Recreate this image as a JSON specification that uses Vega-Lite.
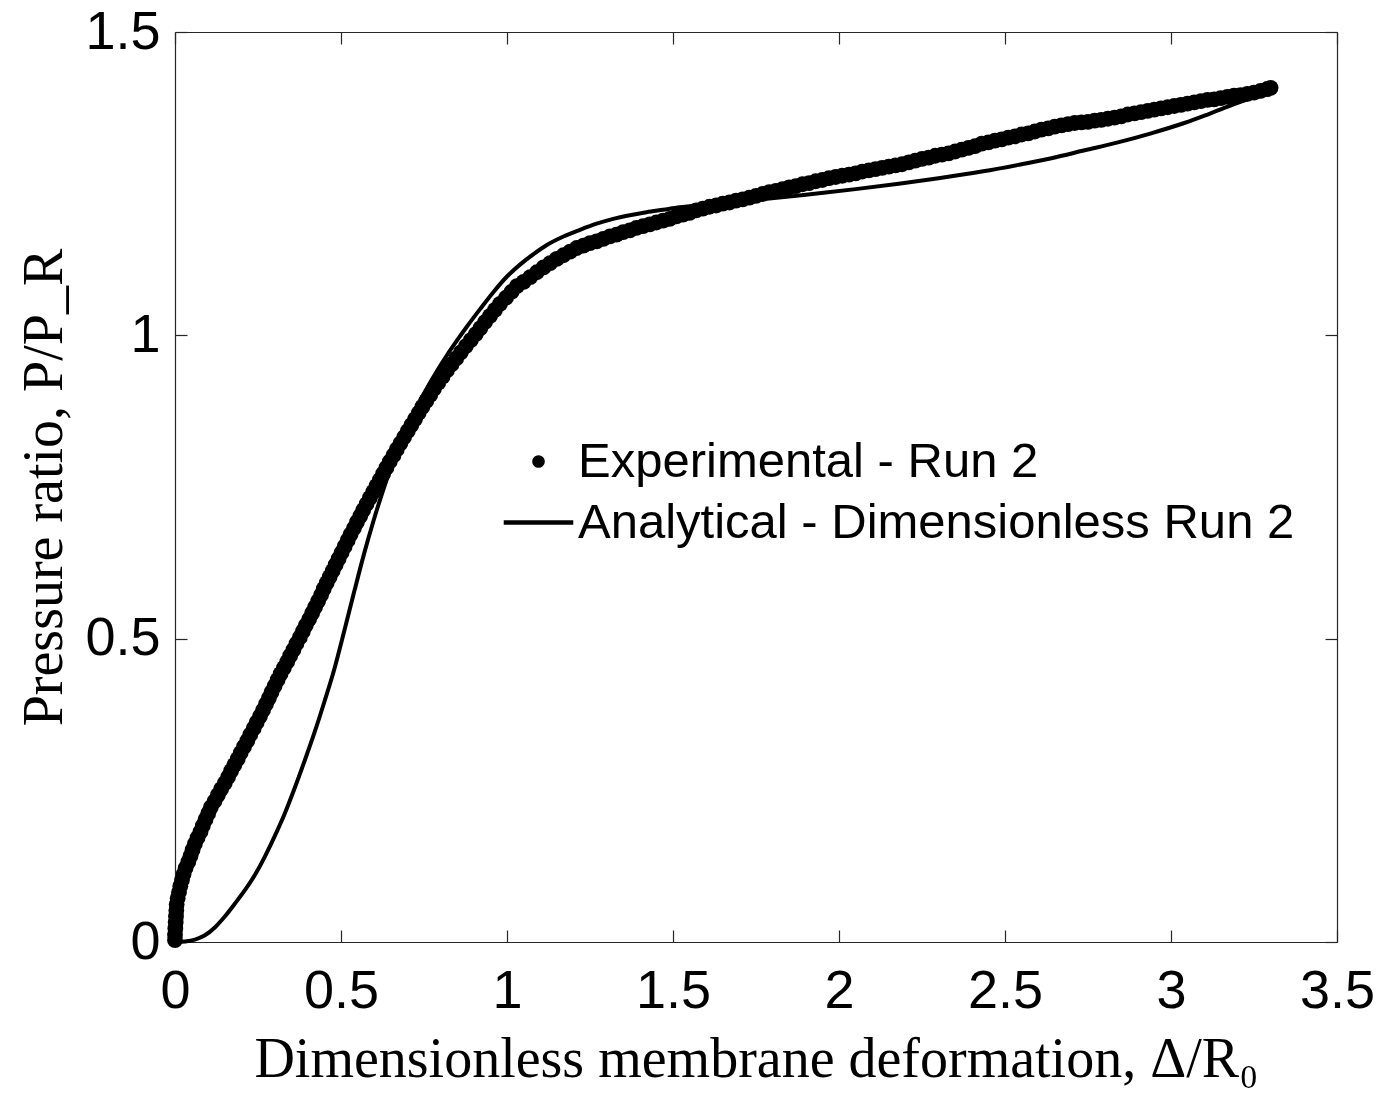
{
  "$schema": "https://vega.github.io/schema/vega-lite/v6.json",
  "width": 1162,
  "height": 910,
  "autosize": "none",
  "padding": {"left": 175, "top": 32, "right": 56, "bottom": 162},
  "background": "white",
  "config": {
    "view": {"stroke": null},
    "axis": {
      "domainColor": "#262626",
      "domainWidth": 1.2,
      "tickColor": "#262626",
      "tickWidth": 1.2,
      "tickSize": -12,
      "grid": false,
      "labelFont": "Liberation Sans",
      "labelFontSize": 54,
      "labelColor": "black",
      "titleFont": "Liberation Serif",
      "titleFontSize": 56,
      "titleFontWeight": "normal",
      "titleColor": "black"
    },
    "legend": {
      "orient": "none",
      "legendX": 339,
      "legendY": 405,
      "padding": 0,
      "labelFont": "Liberation Sans",
      "labelFontSize": 49,
      "labelColor": "black",
      "labelLimit": 2000,
      "labelOffset": 15,
      "rowPadding": 11,
      "symbolSize": 160,
      "symbolFillColor": "black",
      "symbolStrokeWidth": 0,
      "symbolOpacity": 1
    }
  },
  "datasets": {
    "experimental": [
      {"x": 0.000, "y": 0.003}, {"x": 0.000, "y": 0.012}, {"x": 0.001, "y": 0.022}, {"x": 0.002, "y": 0.032},
      {"x": 0.003, "y": 0.042}, {"x": 0.004, "y": 0.052}, {"x": 0.005, "y": 0.062}, {"x": 0.008, "y": 0.072},
      {"x": 0.012, "y": 0.082}, {"x": 0.016, "y": 0.092}, {"x": 0.021, "y": 0.102}, {"x": 0.026, "y": 0.112},
      {"x": 0.032, "y": 0.122}, {"x": 0.040, "y": 0.132}, {"x": 0.047, "y": 0.142}, {"x": 0.053, "y": 0.152},
      {"x": 0.060, "y": 0.162}, {"x": 0.068, "y": 0.172}, {"x": 0.077, "y": 0.182}, {"x": 0.084, "y": 0.192},
      {"x": 0.092, "y": 0.202}, {"x": 0.100, "y": 0.212}, {"x": 0.108, "y": 0.222}, {"x": 0.119, "y": 0.232},
      {"x": 0.129, "y": 0.242}, {"x": 0.139, "y": 0.252}, {"x": 0.150, "y": 0.262}, {"x": 0.160, "y": 0.272},
      {"x": 0.169, "y": 0.282}, {"x": 0.179, "y": 0.292}, {"x": 0.189, "y": 0.302}, {"x": 0.198, "y": 0.312},
      {"x": 0.208, "y": 0.322}, {"x": 0.218, "y": 0.332}, {"x": 0.227, "y": 0.342}, {"x": 0.237, "y": 0.352},
      {"x": 0.246, "y": 0.362}, {"x": 0.256, "y": 0.372}, {"x": 0.265, "y": 0.382}, {"x": 0.274, "y": 0.392},
      {"x": 0.283, "y": 0.402}, {"x": 0.291, "y": 0.412}, {"x": 0.300, "y": 0.422}, {"x": 0.309, "y": 0.432},
      {"x": 0.318, "y": 0.442}, {"x": 0.328, "y": 0.452}, {"x": 0.338, "y": 0.462}, {"x": 0.347, "y": 0.472},
      {"x": 0.357, "y": 0.482}, {"x": 0.366, "y": 0.492}, {"x": 0.376, "y": 0.502}, {"x": 0.385, "y": 0.512},
      {"x": 0.394, "y": 0.522}, {"x": 0.404, "y": 0.532}, {"x": 0.413, "y": 0.542}, {"x": 0.422, "y": 0.552},
      {"x": 0.431, "y": 0.562}, {"x": 0.440, "y": 0.572}, {"x": 0.448, "y": 0.582}, {"x": 0.457, "y": 0.592},
      {"x": 0.466, "y": 0.602}, {"x": 0.475, "y": 0.612}, {"x": 0.484, "y": 0.622}, {"x": 0.493, "y": 0.632},
      {"x": 0.502, "y": 0.642}, {"x": 0.511, "y": 0.652}, {"x": 0.520, "y": 0.662}, {"x": 0.529, "y": 0.672},
      {"x": 0.539, "y": 0.682}, {"x": 0.548, "y": 0.692}, {"x": 0.558, "y": 0.702}, {"x": 0.567, "y": 0.712},
      {"x": 0.577, "y": 0.722}, {"x": 0.587, "y": 0.732}, {"x": 0.597, "y": 0.742}, {"x": 0.607, "y": 0.752},
      {"x": 0.617, "y": 0.762}, {"x": 0.627, "y": 0.772}, {"x": 0.637, "y": 0.782}, {"x": 0.647, "y": 0.792},
      {"x": 0.658, "y": 0.802}, {"x": 0.668, "y": 0.812}, {"x": 0.679, "y": 0.822}, {"x": 0.690, "y": 0.832},
      {"x": 0.701, "y": 0.842}, {"x": 0.712, "y": 0.852}, {"x": 0.723, "y": 0.862}, {"x": 0.734, "y": 0.872},
      {"x": 0.745, "y": 0.882}, {"x": 0.757, "y": 0.892}, {"x": 0.769, "y": 0.902}, {"x": 0.780, "y": 0.912},
      {"x": 0.793, "y": 0.922}, {"x": 0.806, "y": 0.932}, {"x": 0.819, "y": 0.942}, {"x": 0.833, "y": 0.952},
      {"x": 0.847, "y": 0.962}, {"x": 0.861, "y": 0.972}, {"x": 0.876, "y": 0.982}, {"x": 0.891, "y": 0.992},
      {"x": 0.906, "y": 1.002}, {"x": 0.920, "y": 1.012}, {"x": 0.934, "y": 1.022}, {"x": 0.949, "y": 1.032},
      {"x": 0.964, "y": 1.042}, {"x": 0.979, "y": 1.052}, {"x": 0.997, "y": 1.062}, {"x": 1.014, "y": 1.072},
      {"x": 1.03, "y": 1.081}, {"x": 1.05, "y": 1.088}, {"x": 1.07, "y": 1.096}, {"x": 1.09, "y": 1.104},
      {"x": 1.11, "y": 1.112}, {"x": 1.13, "y": 1.119}, {"x": 1.15, "y": 1.126}, {"x": 1.17, "y": 1.132},
      {"x": 1.19, "y": 1.138}, {"x": 1.21, "y": 1.144}, {"x": 1.23, "y": 1.148}, {"x": 1.25, "y": 1.152},
      {"x": 1.27, "y": 1.155}, {"x": 1.29, "y": 1.159}, {"x": 1.31, "y": 1.163}, {"x": 1.33, "y": 1.166},
      {"x": 1.35, "y": 1.170}, {"x": 1.37, "y": 1.173}, {"x": 1.39, "y": 1.177}, {"x": 1.41, "y": 1.180},
      {"x": 1.43, "y": 1.183}, {"x": 1.45, "y": 1.186}, {"x": 1.47, "y": 1.189}, {"x": 1.49, "y": 1.192},
      {"x": 1.51, "y": 1.196}, {"x": 1.53, "y": 1.199}, {"x": 1.55, "y": 1.202}, {"x": 1.57, "y": 1.206},
      {"x": 1.59, "y": 1.209}, {"x": 1.61, "y": 1.212}, {"x": 1.63, "y": 1.214}, {"x": 1.65, "y": 1.217},
      {"x": 1.67, "y": 1.219}, {"x": 1.69, "y": 1.222}, {"x": 1.71, "y": 1.224}, {"x": 1.73, "y": 1.227},
      {"x": 1.75, "y": 1.230}, {"x": 1.77, "y": 1.233}, {"x": 1.79, "y": 1.236}, {"x": 1.81, "y": 1.238},
      {"x": 1.83, "y": 1.241}, {"x": 1.85, "y": 1.244}, {"x": 1.87, "y": 1.246}, {"x": 1.89, "y": 1.249},
      {"x": 1.91, "y": 1.251}, {"x": 1.93, "y": 1.254}, {"x": 1.95, "y": 1.256}, {"x": 1.97, "y": 1.259},
      {"x": 1.99, "y": 1.261}, {"x": 2.01, "y": 1.263}, {"x": 2.03, "y": 1.265}, {"x": 2.05, "y": 1.267},
      {"x": 2.07, "y": 1.270}, {"x": 2.09, "y": 1.272}, {"x": 2.11, "y": 1.274}, {"x": 2.13, "y": 1.276},
      {"x": 2.15, "y": 1.278}, {"x": 2.17, "y": 1.280}, {"x": 2.19, "y": 1.282}, {"x": 2.21, "y": 1.285},
      {"x": 2.23, "y": 1.288}, {"x": 2.25, "y": 1.291}, {"x": 2.27, "y": 1.293}, {"x": 2.29, "y": 1.296},
      {"x": 2.31, "y": 1.298}, {"x": 2.33, "y": 1.300}, {"x": 2.35, "y": 1.303}, {"x": 2.37, "y": 1.306},
      {"x": 2.39, "y": 1.309}, {"x": 2.41, "y": 1.312}, {"x": 2.43, "y": 1.316}, {"x": 2.45, "y": 1.318},
      {"x": 2.47, "y": 1.321}, {"x": 2.49, "y": 1.323}, {"x": 2.51, "y": 1.326}, {"x": 2.53, "y": 1.328},
      {"x": 2.55, "y": 1.331}, {"x": 2.57, "y": 1.333}, {"x": 2.59, "y": 1.336}, {"x": 2.61, "y": 1.339},
      {"x": 2.63, "y": 1.341}, {"x": 2.65, "y": 1.344}, {"x": 2.67, "y": 1.346}, {"x": 2.69, "y": 1.348},
      {"x": 2.71, "y": 1.350}, {"x": 2.73, "y": 1.351}, {"x": 2.75, "y": 1.352}, {"x": 2.77, "y": 1.354},
      {"x": 2.79, "y": 1.355}, {"x": 2.81, "y": 1.357}, {"x": 2.83, "y": 1.359}, {"x": 2.85, "y": 1.361},
      {"x": 2.87, "y": 1.364}, {"x": 2.89, "y": 1.366}, {"x": 2.91, "y": 1.368}, {"x": 2.93, "y": 1.370},
      {"x": 2.95, "y": 1.372}, {"x": 2.97, "y": 1.374}, {"x": 2.99, "y": 1.376}, {"x": 3.01, "y": 1.378},
      {"x": 3.03, "y": 1.380}, {"x": 3.05, "y": 1.382}, {"x": 3.07, "y": 1.384}, {"x": 3.09, "y": 1.386},
      {"x": 3.11, "y": 1.388}, {"x": 3.13, "y": 1.389}, {"x": 3.15, "y": 1.391}, {"x": 3.17, "y": 1.393},
      {"x": 3.19, "y": 1.395}, {"x": 3.21, "y": 1.396}, {"x": 3.23, "y": 1.398}, {"x": 3.25, "y": 1.400},
      {"x": 3.27, "y": 1.403}, {"x": 3.29, "y": 1.406}, {"x": 3.30, "y": 1.408}
    ],
    "analytical": [
      {"x": 0.00, "y": 0.000}, {"x": 0.03, "y": 0.001}, {"x": 0.06, "y": 0.004}, {"x": 0.09, "y": 0.011},
      {"x": 0.12, "y": 0.024}, {"x": 0.15, "y": 0.042}, {"x": 0.18, "y": 0.063}, {"x": 0.21, "y": 0.085},
      {"x": 0.24, "y": 0.110}, {"x": 0.27, "y": 0.140}, {"x": 0.30, "y": 0.174}, {"x": 0.33, "y": 0.211},
      {"x": 0.36, "y": 0.253}, {"x": 0.39, "y": 0.298}, {"x": 0.42, "y": 0.345}, {"x": 0.45, "y": 0.396},
      {"x": 0.48, "y": 0.450}, {"x": 0.51, "y": 0.513}, {"x": 0.54, "y": 0.578}, {"x": 0.57, "y": 0.641},
      {"x": 0.60, "y": 0.698}, {"x": 0.63, "y": 0.750}, {"x": 0.66, "y": 0.796}, {"x": 0.70, "y": 0.850},
      {"x": 0.73, "y": 0.884}, {"x": 0.76, "y": 0.914}, {"x": 0.79, "y": 0.942}, {"x": 0.82, "y": 0.968},
      {"x": 0.85, "y": 0.992}, {"x": 0.88, "y": 1.015}, {"x": 0.92, "y": 1.044}, {"x": 0.96, "y": 1.072},
      {"x": 1.00, "y": 1.097}, {"x": 1.04, "y": 1.117}, {"x": 1.08, "y": 1.134}, {"x": 1.12, "y": 1.149},
      {"x": 1.17, "y": 1.163}, {"x": 1.22, "y": 1.174}, {"x": 1.27, "y": 1.184}, {"x": 1.32, "y": 1.192},
      {"x": 1.37, "y": 1.198}, {"x": 1.42, "y": 1.203}, {"x": 1.47, "y": 1.207}, {"x": 1.52, "y": 1.211},
      {"x": 1.62, "y": 1.217}, {"x": 1.72, "y": 1.222}, {"x": 1.82, "y": 1.227}, {"x": 1.92, "y": 1.233},
      {"x": 2.05, "y": 1.241}, {"x": 2.18, "y": 1.250}, {"x": 2.30, "y": 1.259}, {"x": 2.43, "y": 1.270},
      {"x": 2.54, "y": 1.281}, {"x": 2.64, "y": 1.292}, {"x": 2.74, "y": 1.305}, {"x": 2.84, "y": 1.318},
      {"x": 2.94, "y": 1.333}, {"x": 3.04, "y": 1.350}, {"x": 3.11, "y": 1.364}, {"x": 3.19, "y": 1.381},
      {"x": 3.25, "y": 1.393}, {"x": 3.30, "y": 1.403}
    ]
  },
  "layer": [
    {
      "data": {"name": "experimental"},
      "mark": {"type": "point", "filled": true, "opacity": 1, "size": 250, "color": "black"},
      "encoding": {
        "x": {
          "field": "x", "type": "quantitative",
          "scale": {"domain": [0, 3.5], "nice": false, "zero": false},
          "axis": {
            "orient": "bottom",
            "values": [0, 0.5, 1, 1.5, 2, 2.5, 3, 3.5],
            "format": "~g",
            "labelPadding": 34,
            "labelFlush": false,
            "title": "Dimensionless membrane deformation, Δ/R₀",
            "titlePadding": 14
          }
        },
        "y": {
          "field": "y", "type": "quantitative",
          "scale": {"domain": [0, 1.5], "nice": false, "zero": false},
          "axis": {
            "orient": "left",
            "values": [0, 0.5, 1, 1.5],
            "format": "~g",
            "labelPadding": 27,
            "labelFlush": false,
            "title": "Pressure ratio, P/P_R",
            "titlePadding": 11
          }
        },
        "shape": {
          "datum": "Experimental - Run 2",
          "scale": {
            "domain": ["Experimental - Run 2", "Analytical - Dimensionless Run 2"],
            "range": ["circle", "M-5.5,-0.35H5.5V0.35H-5.5Z"]
          },
          "legend": {"title": null}
        }
      }
    },
    {
      "data": {"name": "analytical"},
      "mark": {"type": "line", "color": "black", "strokeWidth": 4, "interpolate": "monotone"},
      "encoding": {
        "x": {
          "field": "x", "type": "quantitative",
          "scale": {"domain": [0, 3.5], "nice": false, "zero": false},
          "axis": {"orient": "top", "values": [0, 0.5, 1, 1.5, 2, 2.5, 3, 3.5], "labels": false, "title": null}
        },
        "y": {
          "field": "y", "type": "quantitative",
          "scale": {"domain": [0, 1.5], "nice": false, "zero": false},
          "axis": {"orient": "right", "values": [0, 0.5, 1, 1.5], "labels": false, "title": null}
        }
      }
    }
  ],
  "resolve": {"axis": {"x": "independent", "y": "independent"}}
}
